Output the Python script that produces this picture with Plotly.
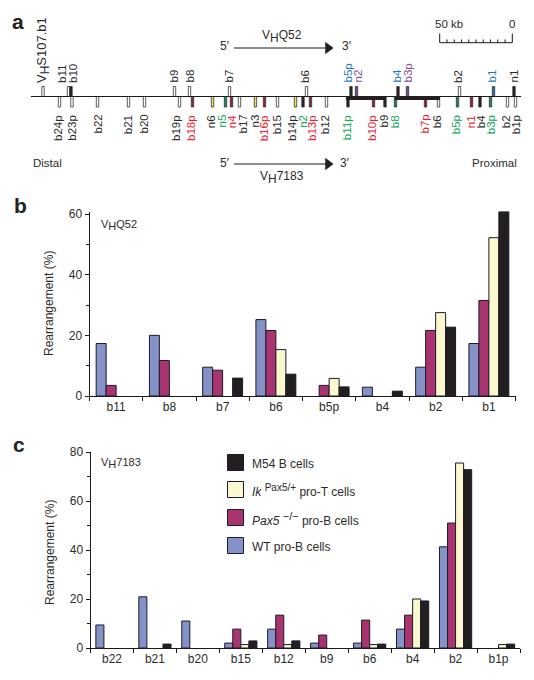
import plotly.graph_objects as go

W, H = 534, 680
FONT = "Liberation Sans"
TXT = "#2b2b2b"

# Panel b
q52_genes = ["b11", "b8", "b7", "b6", "b5p", "b4", "b2", "b1"]
q52_wt = [17.3, 20, 9.5, 25.2, None, 2.9, 9.5, 17.3]
q52_pax = [3.5, 11.7, 8.5, 21.6, 3.5, None, 21.6, 31.5]
q52_ik = [None, None, None, 15.3, 5.8, None, 27.5, 52.2]
q52_m54 = [None, None, 5.9, 7.2, 3, 1.6, 22.7, 60.8]

# Panel c
v7183_genes = ["b22", "b21", "b20", "b15", "b12", "b9", "b6", "b4", "b2", "b1p"]
v7183_wt = [9.4, 20.9, 11, 2, 7.7, 2, 2, 7.7, 41.3, None]
v7183_pax = [None, None, None, 7.7, 13.4, 5.3, 11.4, 13.4, 51, None]
v7183_ik = [None, None, None, 1.4, 1.4, None, 1.4, 20, 75.5, 1.4]
v7183_m54 = [None, 1.6, None, 2.9, 2.9, None, 1.6, 19.2, 72.8, 1.6]

def sized(tag, s, px):
    return f'<{tag}><span style="font-size:{px}px">{s}</span></{tag}>'

series_names = ["WT pro-B cells", "<i>Pax5</i> " + sized("sup", "−/−", 11) + " pro-B cells",
                "<i>Ik</i> " + sized("sup", "Pax5/+", 10) + " pro-T cells", "M54 B cells"]
series_colors = ["#8492C6", "#A8356F", "#FBF8CE", "#231F20"]

# Panel a: locus map
WHITE, BLACK, RED, YEL, GRN, PUR, BLU = "#ffffff", "#231f20", "#96203f", "#f2e24f", "#1d8a5c", "#76488f", "#1f6fae"
LRED, LGRN, LBLU, LPUR = "#e8232f", "#12a658", "#2179bd", "#8a4c9c"
top_labels = ["V" + sized("sub", "H", 12) + "S107.b1", "b11", "b10", "b9", "b8", "b7", "b6", "b5p", "n2", "b4", "b3p", "b2", "b1", "n1"]
top_pos = [43, 68.5, 71, 174.5, 189.5, 229.5, 306.5, 351, 356.5, 398, 407.5, 459.5, 493.5, 514]
top_label_x = [43, 62, 72.5, 173, 189, 228, 304.5, 347, 357, 396, 407, 457.5, 491, 513]
top_fill = [WHITE, WHITE, BLACK, WHITE, WHITE, WHITE, WHITE, BLACK, PUR, BLACK, PUR, WHITE, BLU, BLACK]
top_text = [TXT, TXT, TXT, TXT, TXT, TXT, TXT, LBLU, LPUR, LBLU, LPUR, TXT, LBLU, TXT]

bot_labels = ["b24p", "b23p", "b22", "b21", "b20", "b19p", "b18p", "n6", "n5", "n4", "b17", "n3", "b16p", "b15",
              "b14p", "n2", "b13p", "b12", "b11p", "b10p", "b9", "b8", "b7p", "b6", "b5p", "n1", "b4", "b3p", "b2", "b1p"]
bot_pos = [59.5, 72, 97.5, 128.5, 144.5, 179.5, 192.5, 212.5, 225.5, 231.5, 239.5, 255.5, 264.5, 277.5,
           295.5, 303, 310.5, 326.5, 348, 373.5, 385, 395.5, 425.5, 438.5, 457.5, 471.5, 480, 490.5, 507.5, 515.5]
bot_label_x = [58, 71.7, 97, 127.7, 143, 176, 191, 210.7, 221, 231.7, 242, 254, 264.3, 276.7,
               292, 302.3, 312, 324.7, 346.7, 372, 383, 394.7, 424, 436.7, 455.7, 470.7, 480.7, 490.7, 505.7, 515.7]
bot_fill = [WHITE, WHITE, WHITE, WHITE, WHITE, WHITE, RED, YEL, GRN, RED, WHITE, YEL, RED, WHITE,
            YEL, BLACK, RED, WHITE, BLACK, RED, BLACK, GRN, RED, WHITE, GRN, RED, BLACK, GRN, WHITE, WHITE]
bot_text = [TXT, TXT, TXT, TXT, TXT, TXT, LRED, TXT, LGRN, LRED, TXT, TXT, LRED, TXT,
            TXT, LGRN, LRED, TXT, LGRN, LRED, TXT, LGRN, LRED, TXT, LGRN, LRED, TXT, LGRN, TXT, TXT]
dense_spans = [(346, 385), (395, 440)]
scale_ticks = list(range(11))

fig = go.Figure()

def add_bars(genes, groups, xa, ya):
    for name, vals, col in zip(series_names, groups, series_colors):
        fig.add_bar(x=genes, y=vals, name=name, xaxis=xa, yaxis=ya, showlegend=False, cliponaxis=False,
                    marker=dict(color=col, line=dict(color="#1d1a2e", width=1)))

add_bars(q52_genes, [q52_wt, q52_pax, q52_ik, q52_m54], "x", "y")
add_bars(v7183_genes, [v7183_wt, v7183_pax, v7183_ik, v7183_m54], "x2", "y2")

# Locus map marks
fig.add_bar(x=top_pos + bot_pos, y=[-10] * len(top_pos) + [10.5] * len(bot_pos),
            base=[96.5] * (len(top_pos) + len(bot_pos)), width=2.4, xaxis="x3", yaxis="y3", showlegend=False,
            marker=dict(color=top_fill + bot_fill, line=dict(color="#333333", width=0.8)))
fig.add_scatter(x=[31, 521], y=[96.5, 96.5], mode="lines", xaxis="x3", yaxis="y3", showlegend=False,
                line=dict(color="#1a1a1a", width=1.1))
for a, b in dense_spans:
    fig.add_scatter(x=[a, b], y=[98, 98], mode="lines", xaxis="x3", yaxis="y3", showlegend=False,
                    line=dict(color=BLACK, width=4.2))

# Direction arrows
for y in (48, 164):
    fig.add_scatter(x=[234, 330], y=[y, y], mode="lines", xaxis="x3", yaxis="y3", showlegend=False,
                    line=dict(color="#1a1a1a", width=1))
    fig.add_scatter(x=[328], y=[y], mode="markers", xaxis="x3", yaxis="y3", showlegend=False,
                    marker=dict(symbol="triangle-right", size=11, color=BLACK))

# Scale bar
sx0, sstep = 439.7, 7.26
fig.add_scatter(x=[sx0, sx0 + 10 * sstep], y=[42.7, 42.7], mode="lines", xaxis="x3", yaxis="y3", showlegend=False,
                line=dict(color="#1a1a1a", width=1))
for i in scale_ticks:
    fig.add_scatter(x=[sx0 + i * sstep] * 2, y=[42.7, 33.5 if i in (0, 10) else 39.5], mode="lines",
                    xaxis="x3", yaxis="y3", showlegend=False, line=dict(color="#1a1a1a", width=1))

# Legend swatches
legend_rows = [(3, 462.5), (2, 489.5), (1, 517.5), (0, 545.5)]
for idx, y in legend_rows:
    fig.add_scatter(x=[235.5], y=[y], mode="markers", xaxis="x3", yaxis="y3", showlegend=False,
                    marker=dict(symbol="square", size=16, color=series_colors[idx], line=dict(color="#1d1a2e", width=1)))

ann = []
def note(x, y, text, size=11, color=TXT, xanchor="center", yanchor="middle", angle=0):
    ann.append(dict(x=x, y=y, xref="x3", yref="y3", text=text, showarrow=False, textangle=angle,
                    xanchor=xanchor, yanchor=yanchor, font=dict(family=FONT, size=size, color=color),
                    borderpad=0, borderwidth=0))

for l, x, c in zip(top_labels, top_label_x, top_text):
    note(x, 83, l, size=13 if "S107" in l else 11.5, color=c, yanchor="bottom", angle=-90)
for l, x, c in zip(bot_labels, bot_label_x, bot_text):
    note(x, 115, l, size=11.5, color=c, yanchor="top", angle=-90)

note(18, 21, "<b>a</b>", size=21, color="#222222")
note(20, 205, "<b>b</b>", size=21, color="#222222")
note(19, 444, "<b>c</b>", size=21, color="#222222")
note(282, 36, "V" + sized("sub", "H", 12) + "Q52", size=12)
note(282, 177, "V" + sized("sub", "H", 12) + "7183", size=12)
note(225, 46, "5′", size=12)
note(347, 46, "3′", size=12)
note(225, 163, "5′", size=12)
note(345, 163, "3′", size=12)
note(33, 163, "Distal", size=11.5, xanchor="left")
note(517, 163, "Proximal", size=11.5, xanchor="right")
note(449, 24, "50 kb", size=11.5)
note(512, 24, "0", size=11.5)
note(101, 225, "V" + sized("sub", "H", 11) + "Q52", size=11, xanchor="left")
note(101, 463, "V" + sized("sub", "H", 11) + "7183", size=11, xanchor="left")
note(49, 304, "Rearrangement (%)", size=12, angle=-90)
note(50, 553, "Rearrangement (%)", size=12, angle=-90)
for idx, y in legend_rows:
    note(252, y + 1, series_names[idx], size=12, xanchor="left")

def x_axis(l, r, bottom):
    return dict(domain=[l / W, r / W], anchor=bottom, type="category", tickson="boundaries", ticks="outside",
                ticklen=4, tickwidth=1, tickcolor="#1a1a1a", showline=True, linecolor="#1a1a1a", linewidth=1,
                showgrid=False, zeroline=False, automargin=False, tickfont=dict(family=FONT, size=12, color=TXT))

def y_axis(top, bot, rng, major, minor, anchor):
    return dict(domain=[(H - bot) / H, (H - top) / H], range=rng, anchor=anchor, tickvals=major, ticks="outside",
                ticklen=4, tickwidth=1, tickcolor="#1a1a1a", showline=True, linecolor="#1a1a1a", linewidth=1,
                showgrid=False, zeroline=False, automargin=False, tickfont=dict(family=FONT, size=12, color=TXT),
                minor=dict(tickvals=minor, ticks="outside", ticklen=2.5, tickwidth=1, tickcolor="#1a1a1a", showgrid=False))

fig.update_layout(
    width=W, height=H, margin=dict(l=0, r=0, t=0, b=0), autosize=False,
    paper_bgcolor="white", plot_bgcolor="rgba(0,0,0,0)", barmode="group", bargap=0.25, bargroupgap=0,
    showlegend=False, annotations=ann,
    xaxis=x_axis(89.5, 515.5, "y"),
    yaxis=y_axis(211.6, 396, [0, 60.8], [0, 20, 40, 60], [10, 30, 50], "x"),
    xaxis2=x_axis(90.5, 520, "y2"),
    yaxis2=y_axis(452, 648, [0, 80], [0, 20, 40, 60, 80], [10, 30, 50, 70], "x2"),
    xaxis3=dict(domain=[0, 1], range=[0, W], visible=False, anchor="y3", automargin=False),
    yaxis3=dict(domain=[0, 1], range=[H, 0], visible=False, anchor="x3", automargin=False),
)
fig.write_html("out.html", config=dict(displayModeBar=False),
               post_script="document.body.style.margin='0';document.documentElement.style.overflow='hidden';")
